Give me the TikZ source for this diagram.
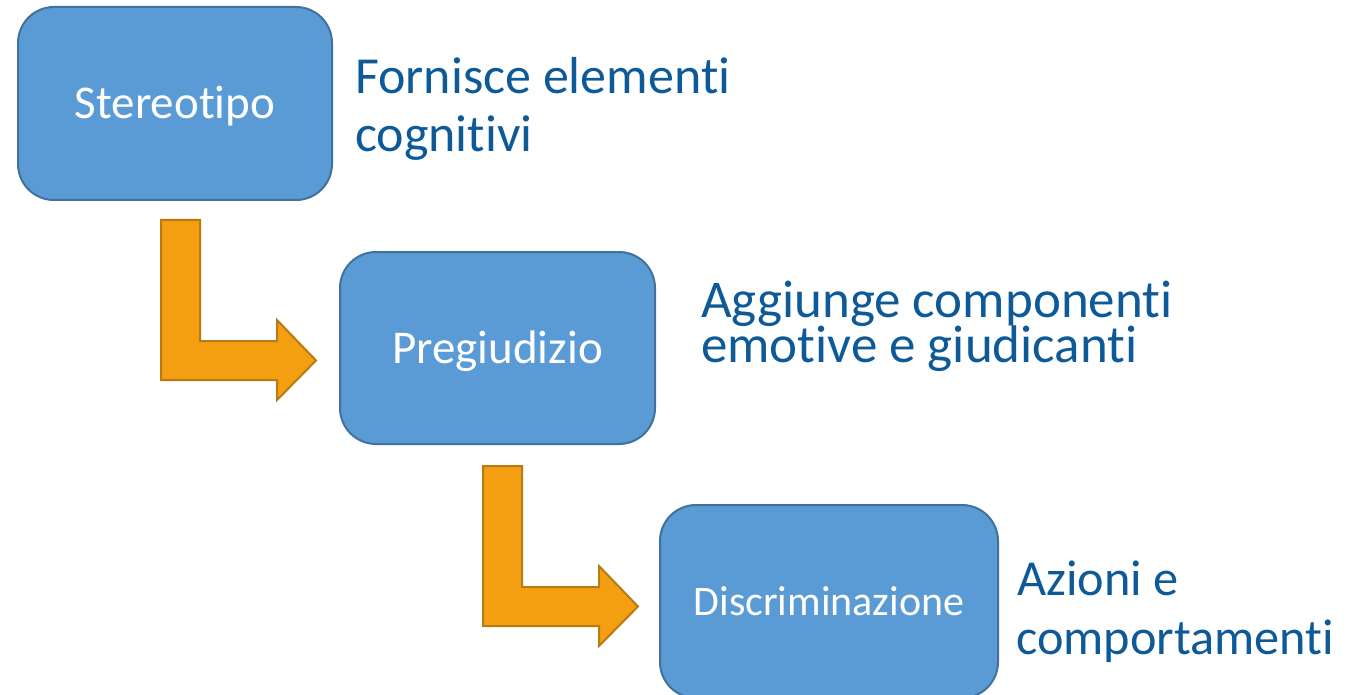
\documentclass[tikz,border=0pt]{standalone}
\usepackage{fontspec}
\setmainfont{Carlito}[Ligatures=NoCommon,RawFeature=-liga]
\definecolor{boxfill}{HTML}{5B9BD5}
\definecolor{boxline}{HTML}{41719C}
\definecolor{arrfill}{HTML}{F49F12}
\definecolor{arrline}{HTML}{B97A10}
\definecolor{sidetext}{HTML}{0E5A98}
\begin{document}
\begin{tikzpicture}[x=1pt,y=-1pt,
  stagebox/.style={draw=boxline,fill=boxfill,line width=2pt,rounded corners=36pt,inner sep=0pt,
    text=white,text height=30pt,text depth=0pt,font=\fontsize{47}{47}\selectfont},
  blockarrow/.style={draw=arrline,fill=arrfill,line width=2pt,line join=miter},
  sidelabel/.style={anchor=base west,inner sep=0pt,text=sidetext}]
\useasboundingbox (0,0) rectangle (1365,695);
% boxes
\node[stagebox,minimum width=314pt,minimum height=193pt] (s1) at (175,103.5) {Stereotipo};
\node[stagebox,minimum width=315pt,minimum height=192pt] (s2) at (497.5,348) {Pregiudizio};
\node[stagebox,minimum width=338pt,minimum height=193pt,text height=27pt,font=\fontsize{42}{42}\selectfont] (s3) at (829,601.5) {Discriminazione};
% block arrows
\coordinate (a1) at (161,220);
\coordinate (a2) at (483,466);
\foreach \c in {a1,a2}{
  \draw[blockarrow] (\c) -- ++(39,0) -- ++(0,121) -- ++(77,0) -- ++(0,-21)
    -- ++(39,40.5) -- ++(-39,39.5) -- ++(0,-20) -- ++(-116,0) -- cycle;
}
% side labels
\node[sidelabel,font=\fontsize{52}{52}\selectfont] (l1a) at (355,94) {Fornisce elementi};
\node[sidelabel,font=\fontsize{52}{52}\selectfont] (l1b) at (355,152) {cognitivi};
\node[sidelabel,font=\fontsize{53}{53}\selectfont] (l2a) at (701,317) {Aggiunge componenti};
\node[sidelabel,font=\fontsize{53}{53}\selectfont] (l2b) at (701,362) {emotive e giudicanti};
\node[sidelabel,font=\fontsize{50.3}{50.3}\selectfont] (l3a) at (1017,595) {Azioni e};
\node[sidelabel,font=\fontsize{50.3}{50.3}\selectfont] (l3b) at (1016,654) {comportamenti};
\end{tikzpicture}
\end{document}
